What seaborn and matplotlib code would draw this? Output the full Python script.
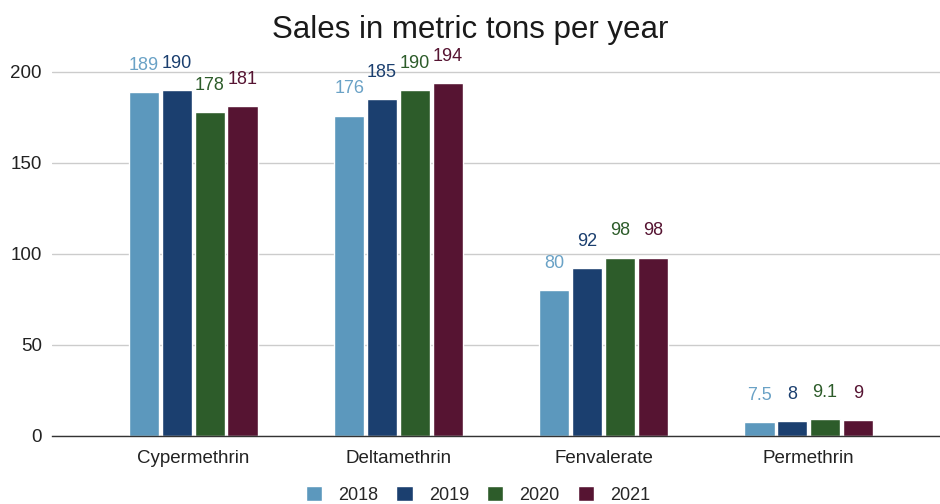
import pandas as pd
import seaborn as sns
import matplotlib.pyplot as plt

products = ["Cypermethrin", "Deltamethrin", "Fenvalerate", "Permethrin"]
years = ["2018", "2019", "2020", "2021"]
sales_2018 = [189, 176, 80, 7.5]
sales_2019 = [190, 185, 92, 8]
sales_2020 = [178, 190, 98, 9.1]
sales_2021 = [181, 194, 98, 9]
yticks = [0, 50, 100, 150, 200]

colors = ["#5c98bd", "#1b3f6f", "#2d5c2a", "#561432"]
label_colors = ["#6aa2c6", "#1b3f6f", "#2d5c2a", "#561432"]

df = pd.DataFrame({
    "product": products * 4,
    "year": sum([[y] * 4 for y in years], []),
    "sales": sales_2018 + sales_2019 + sales_2020 + sales_2021,
})

sns.set_theme(style="white")
plt.rcParams["font.family"] = ["Liberation Sans", "DejaVu Sans"]

fig = plt.figure(figsize=(9.4, 5.04), dpi=100)
ax = fig.add_axes([0.055, 0.135, 0.945, 0.755])

sns.barplot(data=df, x="product", y="sales", hue="year", palette=colors,
            width=0.64, gap=0.08, saturation=1, ax=ax, legend=True)

def fmt(v):
    return f"{v:g}"

for cont, c in zip(ax.containers, label_colors):
    ax.bar_label(cont, labels=[fmt(v) for v in cont.datavalues],
                 padding=13, color=c, fontsize=13)

ax.set_xlim(-0.69, 3.64)
ax.set_ylim(0, 209)
ax.set_yticks(yticks)
ax.yaxis.grid(True, color="#cccccc", linewidth=1)
ax.set_axisbelow(True)
for s in ["top", "right", "left"]:
    ax.spines[s].set_visible(False)
ax.spines["bottom"].set_color("#333333")
ax.spines["bottom"].set_linewidth(1)
ax.tick_params(axis="both", length=0, labelsize=13.5, colors="#222222")
ax.tick_params(axis="y", pad=7)
ax.tick_params(axis="x", pad=10)
ax.set_xlabel("")
ax.set_ylabel("")

fig.suptitle("Sales in metric tons per year", y=0.97, fontsize=22.5,
             color="#1a1a1a", fontweight="medium")

handles, labels = ax.get_legend_handles_labels()
ax.legend(handles, labels, loc="center", bbox_to_anchor=(0.48, -0.155),
          ncol=4, frameon=False, fontsize=13, handlelength=0.9, handleheight=0.9,
          columnspacing=1.0, handletextpad=0.9)

fig.savefig("out.png", dpi=100)
